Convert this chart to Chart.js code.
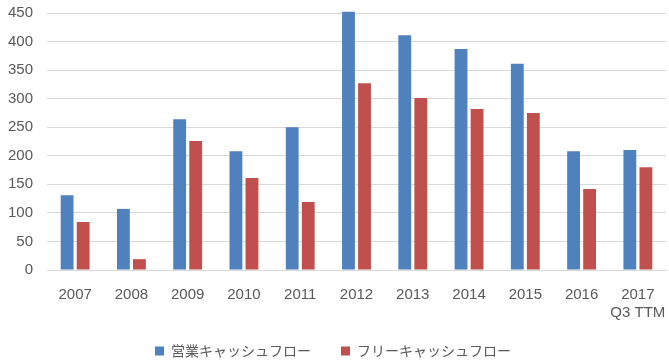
<!DOCTYPE html>
<html>
<head>
<meta charset="utf-8">
<script src="https://cdn.jsdelivr.net/npm/chart.js@4/dist/chart.umd.min.js"></script>
<style>
  html, body { margin: 0; padding: 0; background: #fff; }
  #wrap { width: 669px; height: 364px; }
</style>
</head>
<body>
<div id="wrap"><canvas id="cf"></canvas></div>
<script>
// データ
const years = ['2007', '2008', '2009', '2010', '2011', '2012', '2013', '2014', '2015', '2016', ['2017', 'Q3 TTM']];
const operatingCF = [131, 107, 264, 208, 250, 452, 411, 387, 361, 208, 210];
const freeCF = [84, 19, 226, 161, 119, 327, 301, 282, 275, 142, 180];
const seriesNames = ['営業キャッシュフロー', 'フリーキャッシュフロー'];

const tickFont = { family: 'Liberation Sans, sans-serif', size: 15 };

// 凡例の高さを詰める (項目間の横幅はそのまま)
const legendHeight = {
    id: 'legendHeight',
    afterInit(chart) {
        const legend = chart.legend;
        const fit = legend.fit.bind(legend);
        const draw = legend.draw.bind(legend);
        legend.fit = function () {
            fit();
            this.height = 34;
        };
        legend.draw = function () {
            const top = this.top;
            this.top = top - 16;
            draw();
            this.top = top;
        };
    }
};

const config = {
    type: 'bar',
    data: {
        labels: years,
        datasets: [
            {
                label: seriesNames[0],
                data: operatingCF,
                backgroundColor: '#4F81BD',
                barPercentage: 0.8,
                categoryPercentage: 0.57,
                clip: false,
            },
            {
                label: seriesNames[1],
                data: freeCF,
                backgroundColor: '#C0504D',
                barPercentage: 0.8,
                categoryPercentage: 0.57,
                clip: false,
            }
        ]
    },
    options: {
        responsive: true,
        maintainAspectRatio: false,
        animation: false,
        layout: {
            padding: { top: 3, right: 3, left: 0, bottom: 0 }
        },
        plugins: {
            legend: {
                position: 'bottom',
                labels: {
                    boxWidth: 9,
                    boxHeight: 9,
                    padding: 30,
                    color: '#595959',
                    font: { family: 'Noto Sans CJK JP', size: 14 },
                },
            },
            tooltip: { enabled: false },
        },
        scales: {
            x: {
                grid: { display: false },
                border: { color: '#D9D9D9' },
                ticks: {
                    color: '#595959',
                    font: tickFont,
                    maxRotation: 0,
                    autoSkip: false,
                    padding: 8,
                },
                afterFit(scale) {
                    scale.paddingRight = 0;
                },
            },
            y: {
                min: 0,
                max: 450,
                border: { display: false },
                grid: { color: '#D9D9D9', drawTicks: false },
                ticks: {
                    stepSize: 50,
                    color: '#595959',
                    font: tickFont,
                    padding: 14,
                },
                afterFit(scale) {
                    scale.width = 47;
                    scale.paddingTop = 13;
                },
            }
        }
    },
    plugins: [legendHeight]
};

var ctx = document.getElementById('cf').getContext('2d');
var myChart = new Chart(ctx, config);
</script>
</body>
</html>
